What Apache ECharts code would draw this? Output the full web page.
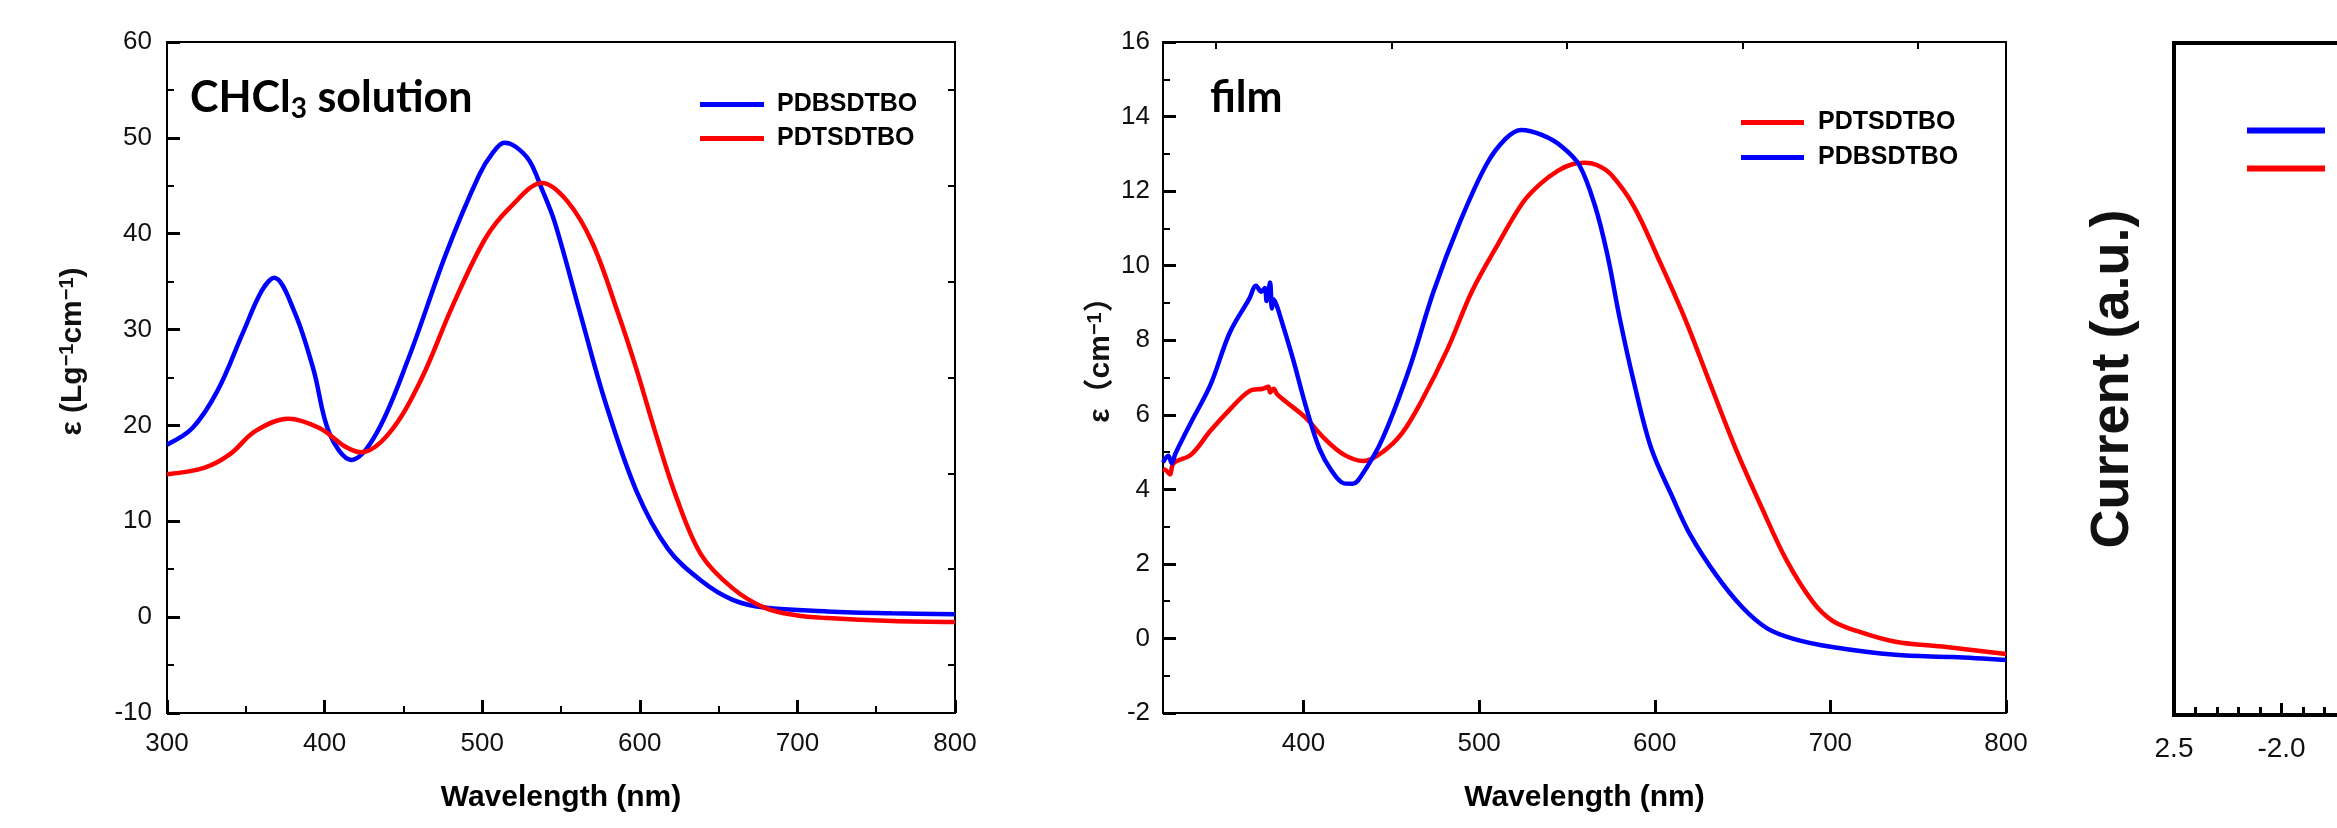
<!DOCTYPE html>
<html>
<head>
<meta charset="utf-8">
<script src="https://cdn.jsdelivr.net/npm/echarts@6/dist/echarts.min.js"></script>
<style>
html,body{margin:0;padding:0;background:#fff;}
#chart{width:2337px;height:828px;}
</style>
</head>
<body>
<div id="chart"></div>
<script>
// ---------- Data ----------
// Panel 1: CHCl3 solution
const solBlueX = [300,316,332,348,360,368,381,393,403,417,433,453,477,498,507,514,521,530,538,546,562,578,598,618,639,659,679,719,760,800];
const solBlueY = [18.0,19.7,23.6,29.6,34.0,35.4,31.8,25.8,19.2,16.4,19.2,26.9,37.9,46.1,48.5,49.5,49.1,47.6,44.6,41.2,31.8,22.5,13.1,7.1,3.8,1.8,1.0,0.6,0.4,0.3];
const solRedX = [300,324,340,356,377,397,413,423,441,461,481,502,518,538,554,570,586,598,610,623,639,659,679,699,719,760,800];
const solRedY = [14.9,15.6,17.0,19.4,20.7,19.7,17.8,17.2,19.2,24.7,32.4,39.5,42.8,45.3,43.4,39.0,31.8,25.8,19.2,12.6,6.5,3.0,1.0,0.2,-0.1,-0.4,-0.5];
// Panel 2: film
const filmBlueX = [320,323,325,327,329,336,347,358,369,373,376,378,379,380,381,382,383,385,387,394,401.5,409,416,423,428,434,445,460,474,489,504,515,524,536,547,557,566,573,580,588,598,610,620,635,650,664,679,701,737,770,800];
const filmBlueY = [4.72,4.9,4.7,4.95,5.15,5.8,6.8,8.2,9.1,9.46,9.3,9.4,9.05,9.3,9.55,8.85,9.1,8.9,8.6,7.5,6.2,5.1,4.5,4.16,4.15,4.44,5.36,7.2,9.3,11.16,12.7,13.4,13.64,13.5,13.2,12.7,11.6,10.3,8.6,6.9,5.1,3.8,2.8,1.7,0.83,0.27,-0.01,-0.23,-0.44,-0.5,-0.58];
const filmRedX = [320,322,324,326,336,347,358,369,377,380,381,383,385,390,401,412,423,434,445,456,467,482,496,511,525,535,545,553,560,567,575,588,602,617,631,646,661,675,690,701,715,737,766,800];
const filmRedY = [4.54,4.5,4.4,4.7,4.93,5.57,6.14,6.63,6.7,6.75,6.6,6.7,6.55,6.35,5.93,5.36,4.93,4.76,5.0,5.5,6.35,7.76,9.32,10.6,11.7,12.2,12.55,12.72,12.76,12.7,12.45,11.6,10.2,8.6,6.9,5.1,3.5,2.1,0.98,0.48,0.2,-0.09,-0.23,-0.42];
// Panel 3: CV (curves lie outside the visible window)
const cvBlue = [];
const cvRed = [];

// Tick values
const filmMajorTicks = [400,500,600,700,800];
const filmMinorTicks = [350,450,550,650,750];
const solRightTicks = [-5,5,15,25,35,45,55];

const names = {blue:'PDBSDTBO', red:'PDTSDTBO'};
const BLUE = '#0000ff', RED = '#ff0000';
const SANS = '"Liberation Sans", Arial, sans-serif';

function zip(xs, ys){ return xs.map((x,i)=>[x, ys[i]]); }

const chart = echarts.init(document.getElementById('chart'), null, {renderer:'canvas'});

const tickLabel = {fontSize:26, color:'#111', fontFamily:SANS};
const majorTick = {show:true, inside:true, length:13, lineStyle:{color:'#000', width:3}};
const minorTick = {show:true, length:7, lineStyle:{color:'#000', width:2}};
const axisLine = {show:true, onZero:false, lineStyle:{color:'#000', width:2}};
const nameBold = {fontSize:30, fontWeight:'bold', color:'#000', fontFamily:SANS};

function line(name, color, xi, yi, data){
  return {type:'line', name:name, xAxisIndex:xi, yAxisIndex:yi, data:data, symbol:'none', showSymbol:false,
    smooth:0.35, color:color, lineStyle:{width:4.5, color:color}, itemStyle:{color:color}, silent:true};
}

const legendText = {fontSize:25, fontWeight:'bold', color:'#000', fontFamily:SANS, lineHeight:25};

const option = {
  animation:false,
  backgroundColor:'#fff',
  title:[
    {text:'{a|CHCl}{s|3}{a| solution}', left:190, top:73, padding:0,
     textStyle:{rich:{
       a:{fontFamily:'Lato', fontWeight:'bold', fontSize:43, color:'#000', lineHeight:50},
       s:{fontFamily:'Lato', fontWeight:'bold', fontSize:28, color:'#000', padding:[22,0,0,0]}
     }}},
    {text:'film', left:1210, top:73, padding:0,
     textStyle:{fontFamily:'Lato', fontWeight:'bold', fontSize:43, color:'#000', lineHeight:50}}
  ],
  legend:[
    {data:[names.blue, names.red], left:700, top:92, orient:'vertical', icon:'rect', itemWidth:64, itemHeight:5,
     itemGap:9, selectedMode:false, padding:0, textStyle:Object.assign({padding:[0,0,0,8]}, legendText)},
    {data:[names.red, names.blue], left:1741, top:110, orient:'vertical', icon:'rect', itemWidth:63, itemHeight:5,
     itemGap:10, selectedMode:false, padding:0, textStyle:Object.assign({padding:[0,0,0,9]}, legendText)},
    {data:[names.blue, names.red], left:2247, top:118, orient:'vertical', icon:'rect', itemWidth:78, itemHeight:6,
     itemGap:13, selectedMode:false, padding:0, textStyle:Object.assign({padding:[0,0,0,40]}, legendText)}
  ],
  grid:[
    {left:167, top:42, width:788, height:671, show:true, borderColor:'#000', borderWidth:2, backgroundColor:'rgba(0,0,0,0)', outerBoundsMode:'none', containLabel:false},
    {left:1163, top:42, width:843, height:671, show:true, borderColor:'#000', borderWidth:2, backgroundColor:'rgba(0,0,0,0)', outerBoundsMode:'none', containLabel:false},
    {left:2174, top:43, width:860, height:672, show:true, borderColor:'#000', borderWidth:4, backgroundColor:'rgba(0,0,0,0)', outerBoundsMode:'none', containLabel:false}
  ],
  xAxis:[
    {gridIndex:0, type:'value', min:300, max:800, interval:100, axisLine:axisLine, axisTick:majorTick,
     minorTick:Object.assign({splitNumber:2}, minorTick), splitLine:{show:false}, minorSplitLine:{show:false},
     axisLabel:Object.assign({margin:18}, tickLabel),
     name:'Wavelength (nm)', nameLocation:'middle', nameGap:70, nameTextStyle:nameBold},
    {gridIndex:1, type:'value', min:320, max:800, axisLine:axisLine,
     axisTick:Object.assign({customValues:filmMajorTicks}, majorTick), splitLine:{show:false},
     axisLabel:Object.assign({margin:18, customValues:filmMajorTicks}, tickLabel),
     name:'Wavelength (nm)', nameLocation:'middle', nameGap:70, nameTextStyle:nameBold},
    {gridIndex:1, type:'value', min:320, max:800, axisLine:{show:false, onZero:false}, splitLine:{show:false},
     axisTick:{show:true, inside:true, length:7, customValues:filmMinorTicks, lineStyle:{color:'#000', width:2}},
     axisLabel:{show:false}},
    {gridIndex:2, type:'value', min:-2.5, max:1.5, interval:0.5, axisLine:{show:true, onZero:false, lineStyle:{color:'#000', width:4}},
     axisTick:{show:true, inside:true, length:12, lineStyle:{color:'#000', width:3}},
     minorTick:{show:true, splitNumber:5, length:8, lineStyle:{color:'#000', width:3}},
     splitLine:{show:false}, minorSplitLine:{show:false},
     axisLabel:{margin:20, fontSize:28, color:'#111', fontFamily:SANS,
       formatter:function(v){ return v === -2.5 ? '2.5' : v.toFixed(1); }}}
  ],
  yAxis:[
    {gridIndex:0, type:'value', min:-10, max:60, interval:10, axisLine:axisLine, axisTick:majorTick,
     minorTick:Object.assign({splitNumber:2}, minorTick), splitLine:{show:false}, minorSplitLine:{show:false},
     axisLabel:Object.assign({margin:15}, tickLabel),
     name:'ε (Lg{sup|−1}cm{sup|−1})', nameLocation:'middle', nameGap:78,
     nameTextStyle:{fontSize:30, fontWeight:'bold', color:'#111', fontFamily:SANS, padding:[0,0,0,52],
       rich:{sup:{fontSize:20, fontWeight:'bold', color:'#111', fontFamily:SANS, verticalAlign:'top', padding:[0,0,12,0]}}}},
    {gridIndex:0, type:'value', position:'right', min:-10, max:60, axisLine:{show:false, onZero:false}, splitLine:{show:false},
     axisTick:{show:true, inside:true, length:7, customValues:solRightTicks, lineStyle:{color:'#000', width:2}},
     axisLabel:{show:false}},
    {gridIndex:1, type:'value', min:-2, max:16, interval:2, axisLine:axisLine, axisTick:majorTick,
     minorTick:Object.assign({splitNumber:2}, minorTick), splitLine:{show:false}, minorSplitLine:{show:false},
     axisLabel:Object.assign({margin:13}, tickLabel),
     name:'ε（cm{sup|−1}）', nameLocation:'middle', nameGap:46,
     nameTextStyle:{fontSize:30, fontWeight:'bold', color:'#111', fontFamily:'"Liberation Sans", "Noto Sans CJK SC", sans-serif', padding:[0,0,0,50],
       rich:{sup:{fontSize:20, fontWeight:'bold', color:'#111', fontFamily:SANS, verticalAlign:'top', padding:[0,0,12,0]}}}},
    {gridIndex:2, type:'value', min:0, max:1, axisLine:{show:true, onZero:false, lineStyle:{color:'#000', width:4}},
     axisTick:{show:false}, axisLabel:{show:false}, splitLine:{show:false},
     name:'Current (a.u.)', nameLocation:'middle', nameGap:34,
     nameTextStyle:{fontSize:54, fontWeight:'bold', color:'#111', fontFamily:SANS}}
  ],
  series:[
    line(names.blue, BLUE, 0, 0, zip(solBlueX, solBlueY)),
    line(names.red, RED, 0, 0, zip(solRedX, solRedY)),
    line(names.red, RED, 1, 2, zip(filmRedX, filmRedY)),
    line(names.blue, BLUE, 1, 2, zip(filmBlueX, filmBlueY)),
    line(names.blue, BLUE, 3, 3, cvBlue),
    line(names.red, RED, 3, 3, cvRed)
  ]
};
chart.setOption(option);
</script>
</body>
</html>
